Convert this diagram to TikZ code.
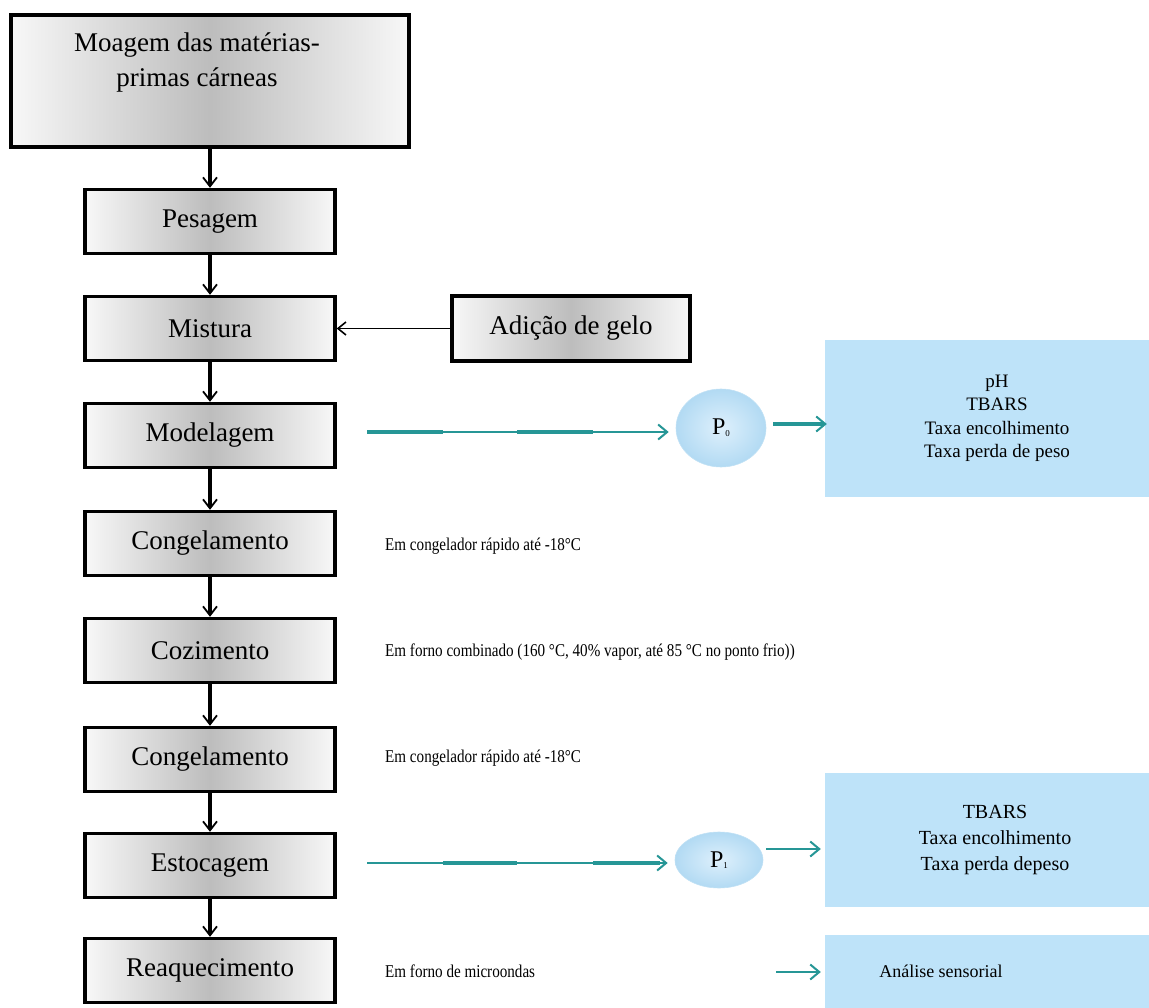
\documentclass[tikz,border=0pt]{standalone}
\usepackage{fontspec}
\setmainfont{Liberation Serif}
\newfontfamily\sidefont[FakeStretch=0.84]{Liberation Serif}
\usetikzlibrary{arrows.meta,shapes.geometric}
\definecolor{tealc}{RGB}{38,150,150}
\definecolor{lblue}{RGB}{190,227,249}
\definecolor{ballin}{RGB}{222,240,252}
\definecolor{ballout}{RGB}{178,218,243}
\tikzset{
  stepbox/.style={draw=black, line width=3.4pt, minimum width=250pt, minimum height=64pt,
    inner sep=0pt, left color=gray!6, right color=gray!6, middle color=gray!52,
    font=\fontsize{27}{32}\selectfont},
  infobox/.style={fill=lblue, draw=none, minimum width=324pt, inner sep=0pt, align=center},
  ball/.style={ellipse, shading=radial, inner color=ballin, outer color=ballout,
    draw=ballout!80!white, line width=0.6pt, inner sep=0pt, font=\fontsize{24}{28}\selectfont},
  flowarrow/.style={draw=black, line width=3.2pt, -{Straight Barb[length=9pt,width=14pt,line width=1.8pt]}},
  thinarrow/.style={draw=black, line width=1.8pt, -{Straight Barb[length=8pt,width=13pt,line width=1.6pt]}},
  tealarrow/.style={draw=tealc, line width=1.8pt, -{Straight Barb[length=9pt,width=15pt,line width=2pt]}},
  tealthick/.style={draw=tealc, line width=3.8pt},
  sidetxt/.style={anchor=west, inner sep=0pt, font=\sidefont\fontsize{18}{22}\selectfont},
}
\begin{document}
\begin{tikzpicture}[x=1pt,y=-1pt]
\useasboundingbox (0,0) rectangle (1149,1008);

% main flow boxes
\node[stepbox, minimum width=398pt, minimum height=132pt] (top) at (210,81) {};
\node[inner sep=0pt, align=center, anchor=north, font=\fontsize{27}{35}\selectfont] (toptxt) at (197,33) {Moagem das matérias-\\primas cárneas};
\node[stepbox] (pes)  at (210,221.5) {Pesagem};
\node[stepbox] (mis)  at (210,328.5) {Mistura};
\node[stepbox] (mod)  at (210,435.5) {Modelagem};
\node[stepbox] (con1) at (210,543.5) {Congelamento};
\node[stepbox] (coz)  at (210,650.5) {Cozimento};
\node[stepbox] (con2) at (210,759.5) {Congelamento};
\node[stepbox] (est)  at (210,865.5) {Estocagem};
\node[stepbox] (req)  at (210,970.5) {Reaquecimento};
\node[stepbox, minimum width=238pt, minimum height=65pt] (gelo) at (571,328.5) {Adição de gelo};

\draw[flowarrow] (top) -- (pes);
\draw[flowarrow] (pes) -- (mis);
\draw[flowarrow] (mis) -- (mod);
\draw[flowarrow] (mod) -- (con1);
\draw[flowarrow] (con1) -- (coz);
\draw[flowarrow] (coz) -- (con2);
\draw[flowarrow] (con2) -- (est);
\draw[flowarrow] (est) -- (req);
\draw[thinarrow] (gelo) -- (mis);

% side notes
\node[sidetxt] (n1) at (385,546) {Em congelador rápido até -18°C};
\node[sidetxt] (n2) at (385,652) {Em forno combinado (160 °C, 40\% vapor, até 85 °C no ponto frio))};
\node[sidetxt] (n3) at (385,758) {Em congelador rápido até -18°C};
\node[sidetxt] (n4) at (385,971) {Em forno de microondas};

% analysis boxes
\node[infobox, minimum height=157pt, font=\fontsize{19}{23.5}\selectfont] (b1) at (987,418.5)
  {\hspace*{20pt}pH\\\hspace*{20pt}TBARS\\\hspace*{20pt}Taxa encolhimento\\\hspace*{20pt}Taxa perda de peso};
\node[infobox, minimum height=134pt, font=\fontsize{20}{26}\selectfont] (b2) at (987,840)
  {\hspace*{16pt}TBARS\\\hspace*{16pt}Taxa encolhimento\\\hspace*{16pt}Taxa perda depeso};
\node[infobox, minimum height=73pt, font=\fontsize{18}{22}\selectfont] (b3) at (987,971.5)
  {\hspace*{-92pt}Análise sensorial};

% sampling points
\node[ball, minimum width=90pt, minimum height=78pt] (p0) at (721,428) {P\raisebox{-0.15ex}{\fontsize{9}{10}\selectfont 0}};
\node[ball, minimum width=88pt, minimum height=56pt] (p1) at (719,860) {P\raisebox{-0.15ex}{\fontsize{9}{10}\selectfont 1}};

\coordinate (s0) at (367,432);
\coordinate (s1) at (367,863);
\coordinate (s2) at (776,972);

\draw[tealthick] (367,432) -- (443,432);
\draw[tealthick] (517,432) -- (593,432);
\draw[tealarrow] (s0) -- (s0 -| p0.west) [shorten >=7pt];
\draw[tealarrow, line width=3.6pt] (p0.east |- 0,424) ++(7,0) -- (b1.west |- 0,424) [shorten >=-2pt];

\draw[tealthick] (443,863) -- (517,863);
\draw[tealthick] (593,863) -- (660,863);
\draw[tealarrow] (s1) -- (s1 -| p1.west) [shorten >=7pt];
\draw[tealarrow] (p1.east |- 0,849) ++(3,0) -- (b2.west |- 0,849) [shorten >=4pt];

\draw[tealarrow] (s2) -- (b3.west |- s2) [shorten >=4pt];
\end{tikzpicture}
\end{document}
